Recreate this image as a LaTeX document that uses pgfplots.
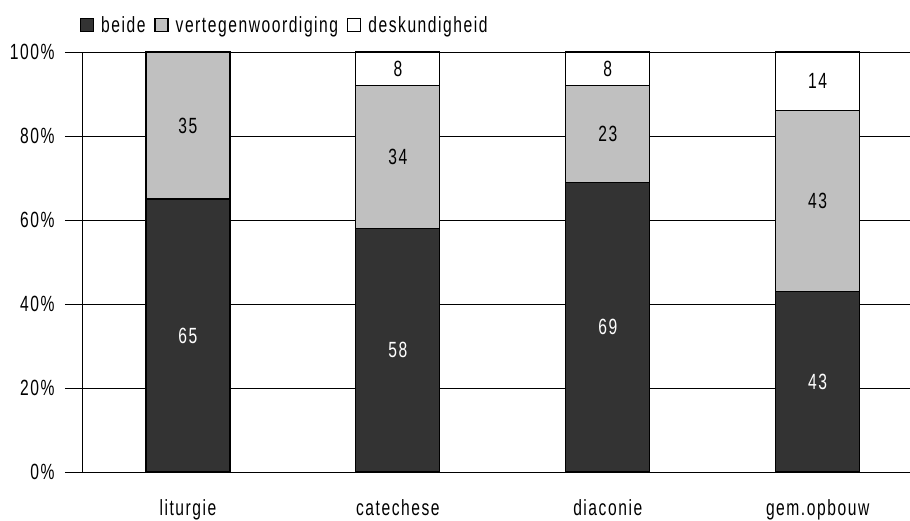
\documentclass[border=0pt]{standalone}
\usepackage{pgfplots}
\pgfplotsset{compat=1.18}
\usepackage{fontspec}
\setmainfont{Liberation Sans}[FakeStretch=0.71, LetterSpace=7]
\definecolor{dark}{HTML}{333333}
\definecolor{mid}{HTML}{C0C0C0}
\begin{document}
\begin{tikzpicture}[font=\fontsize{22bp}{26bp}\selectfont]
\useasboundingbox (-83bp,-49bp) rectangle (827bp,472bp);
\begin{axis}[
  at={(0,0)}, anchor=south west,
  width=827bp, height=420bp, scale only axis,
  ybar stacked, bar width=84bp,
  xmin=-0.5, xmax=3.44, ymin=0, ymax=100,
  xtick={0,1,2,3}, xticklabels={liturgie,catechese,diaconie,gem.opbouw},
  ytick={0,20,...,100}, yticklabel={\pgfmathprintnumber{\tick}\%},
  /pgf/number format/assume math mode=true,
  ymajorgrids, grid style={black, line width=0.8bp},
  axis lines=left, axis line style={-, line width=1bp, black},
  tick align=outside, major tick length=18bp,
  xtick style={draw=none}, ytick style={black, line width=0.8bp},
  xticklabel style={yshift=-6bp},
  yticklabel style={xshift=-7bp},
  legend style={at={(-0.004,1.064)}, anchor=west, draw=none, fill=none,
    legend columns=-1, inner sep=0pt,
    /tikz/every even column/.append style={column sep=7bp},
    /tikz/every odd column/.append style={column sep=5bp},
    nodes={inner sep=2bp}},
  sq/.style={legend image code/.code={\draw[##1, line width=1.2bp] (0bp,-6.5bp) rectangle (13bp,6.5bp);}},
]
\addplot[fill=dark, draw=black, line width=1.2bp, sq] coordinates {(0,65) (1,58) (2,69) (3,43)};
\addplot[fill=mid, draw=black, line width=1.2bp, sq] coordinates {(0,35) (1,34) (2,23) (3,43)};
\addplot[fill=white, draw=black, line width=1.2bp, sq] coordinates {(0,0) (1,8) (2,8) (3,14)};
\legend{beide, vertegenwoordiging, deskundigheid}
\coordinate (a1) at (axis cs:0,32.5);
\coordinate (a2) at (axis cs:1,29);
\coordinate (a3) at (axis cs:2,34.5);
\coordinate (a4) at (axis cs:3,21.5);
\coordinate (b1) at (axis cs:0,82.5);
\coordinate (b2) at (axis cs:1,75);
\coordinate (b3) at (axis cs:2,80.5);
\coordinate (b4) at (axis cs:3,64.5);
\coordinate (c2) at (axis cs:1,96);
\coordinate (c3) at (axis cs:2,96);
\coordinate (c4) at (axis cs:3,93);
\end{axis}
\node[white] at (a1) {65};
\node[white] at (a2) {58};
\node[white] at (a3) {69};
\node[white] at (a4) {43};
\node at (b1) {35};
\node at (b2) {34};
\node at (b3) {23};
\node at (b4) {43};
\node at (c2) {8};
\node at (c3) {8};
\node at (c4) {14};
\end{tikzpicture}
\end{document}
